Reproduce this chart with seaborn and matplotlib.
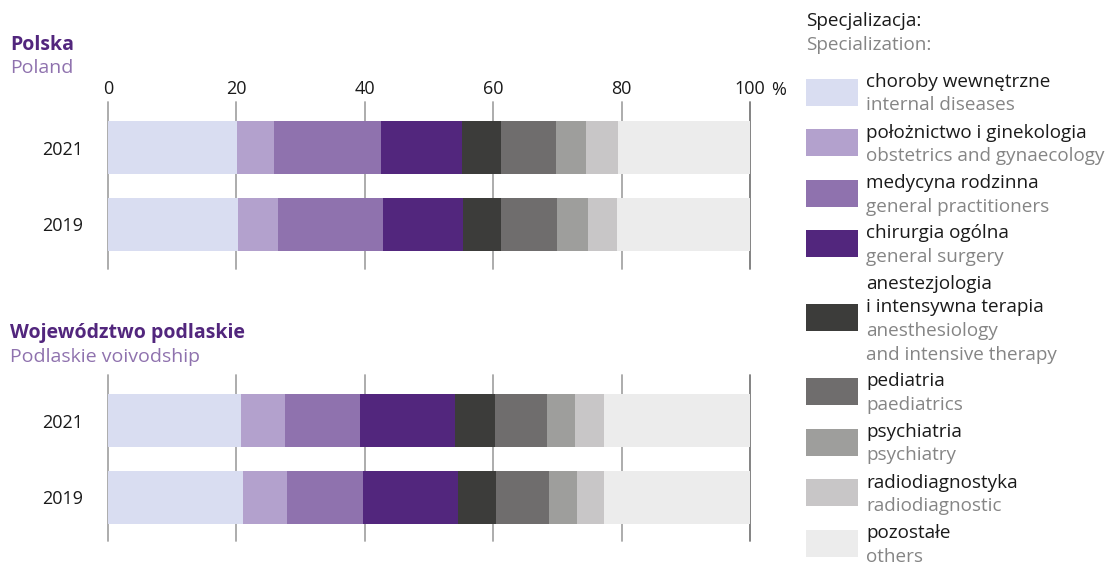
import matplotlib
matplotlib.use("Agg")
import matplotlib.pyplot as plt
from matplotlib.patches import Rectangle
import seaborn as sns
import pandas as pd

# dane
specs_pl = ["choroby wewnętrzne", "położnictwo i ginekologia", "medycyna rodzinna",
            "chirurgia ogólna", "anestezjologia\ni intensywna terapia", "pediatria",
            "psychiatria", "radiodiagnostyka", "pozostałe"]
specs_en = ["internal diseases", "obstetrics and gynaecology", "general practitioners",
            "general surgery", "anesthesiology\nand intensive therapy", "paediatrics",
            "psychiatry", "radiodiagnostic", "others"]
colors = ["#d9ddf1", "#b3a1cd", "#8f72ae", "#52267d", "#3c3c3a",
          "#6f6d6d", "#9e9e9c", "#c8c6c7", "#ececec"]
years = ["2021", "2019"]
ticks = [0, 20, 40, 60, 80, 100]

poland_2021 = [20.1, 5.8, 16.6, 12.6, 6.1, 8.6, 4.7, 4.9, 20.6]
poland_2019 = [20.25, 6.25, 16.3, 12.5, 5.9, 8.7, 4.9, 4.5, 20.7]
podlaskie_2021 = [20.7, 6.9, 11.65, 14.85, 6.2, 8.1, 4.3, 4.6, 22.7]
podlaskie_2019 = [21.0, 6.9, 11.8, 14.8, 5.9, 8.3, 4.4, 4.2, 22.7]

rows = []
for region, vals in [("PL", {"2021": poland_2021, "2019": poland_2019}),
                     ("PD", {"2021": podlaskie_2021, "2019": podlaskie_2019})]:
    for y in years:
        for s, v in zip(specs_pl, vals[y]):
            rows.append((region, y, s, v))
df = pd.DataFrame(rows, columns=["region", "year", "spec", "value"])
df["cum"] = df.groupby(["region", "year"])["value"].cumsum()

sns.set_style("white")
plt.rcParams["font.family"] = ["Open Sans", "DejaVu Sans"]

W, H = 1106, 564
fig = plt.figure(figsize=(W / 100, H / 100), dpi=100)

def box(x0, x1, top, bottom):
    return [x0 / W, 1 - bottom / H, (x1 - x0) / W, (bottom - top) / H]

ax1 = fig.add_axes(box(108, 750, 102, 269))
ax2 = fig.add_axes(box(108, 750, 375, 541))

DARK = "#1a1a1a"
GREY = "#858585"
PURPLE = "#52267d"
LPURPLE = "#8f72ae"

for ax, region, ylim in [(ax1, "PL", (1.578, -0.591)), (ax2, "PD", (1.565, -0.591))]:
    sub = df[df.region == region]
    # skumulowane slupki od konca
    for i in reversed(range(len(specs_pl))):
        part = sub[sub.spec == specs_pl[i]]
        sns.barplot(data=part, x="cum", y="year", order=years, color=colors[i],
                    saturation=1, width=0.69, orient="h", errorbar=None,
                    linewidth=0, ax=ax, zorder=2)
    for t in ticks:
        ax.axvline(t, color="#7a7a7a" if t == 100 else "#a6a6a6", lw=1.3,
                   zorder=0, clip_on=False)
    ax.set_xlim(0, 100)
    ax.set_ylim(*ylim)
    ax.set_xlabel("")
    ax.set_ylabel("")
    for sp in ax.spines.values():
        sp.set_visible(False)
    ax.tick_params(axis="y", length=0, pad=18, labelsize=13, labelcolor=DARK)
    ax.grid(False)

ax1.xaxis.tick_top()
ax1.set_xticks(ticks)
ax1.set_xticklabels([str(t) for t in ticks])
ax1.tick_params(axis="x", length=0, pad=3, labelsize=13, labelcolor=DARK)
ax1.text(1.033, 1.015, "%", transform=ax1.transAxes, fontsize=13, color=DARK,
         ha="left", va="bottom")
ax2.set_xticks([])

def ftext(x, y, s, **kw):
    fig.text(x / W, 1 - y / H, s, va="center", ha="left", **kw)

ftext(10, 45, "Polska", fontsize=14, fontweight="bold", color=PURPLE)
ftext(10, 68, "Poland", fontsize=14, color=LPURPLE)
ftext(10, 333, "Województwo podlaskie", fontsize=14, fontweight="bold", color=PURPLE)
ftext(10, 357, "Podlaskie voivodship", fontsize=14, color=LPURPLE)

# legenda
LF = 13.6
ftext(806, 21, "Specjalizacja:", fontsize=LF, color=DARK)
ftext(806, 45, "Specialization:", fontsize=LF, color=GREY)
step = 23.5
y = 82
for pl, en, c in zip(specs_pl, specs_en, colors):
    pl_lines = pl.split("\n")
    en_lines = en.split("\n")
    for k, line in enumerate(pl_lines):
        ftext(866, y + k * step, line, fontsize=LF, color=DARK)
    last = y + (len(pl_lines) - 1) * step
    fig.patches.append(Rectangle((806 / W, 1 - (last + 23.5) / H), 52 / W, 27 / H,
                                 transform=fig.transFigure, color=c, lw=0))
    for k, line in enumerate(en_lines):
        ftext(866, last + (k + 1) * step, line, fontsize=LF, color=GREY)
    y = last + len(en_lines) * step + 27

fig.savefig("out.png", dpi=100)
